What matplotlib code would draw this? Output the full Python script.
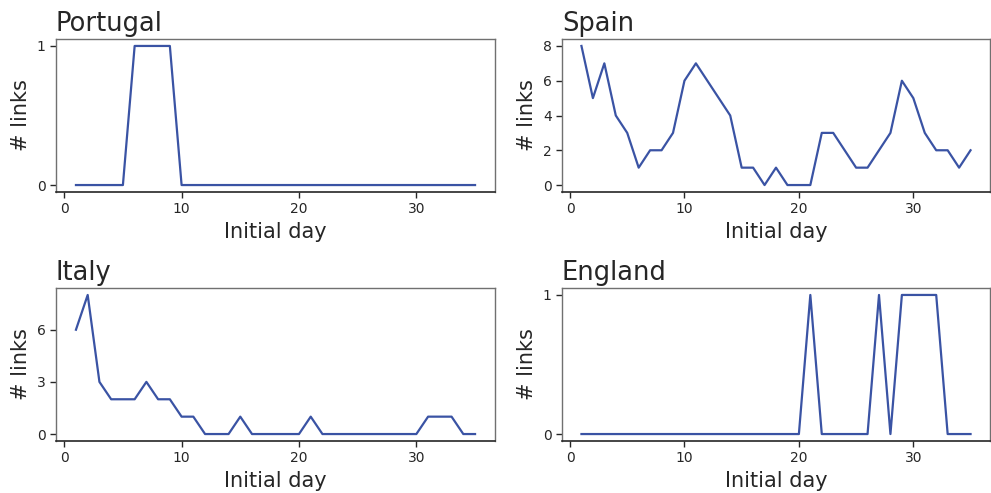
import matplotlib
matplotlib.use("Agg")
import matplotlib.pyplot as plt

days = list(range(1, 36))

portugal = [0, 0, 0, 0, 0, 1, 1, 1, 1, 0, 0, 0, 0, 0, 0, 0, 0, 0, 0, 0,
            0, 0, 0, 0, 0, 0, 0, 0, 0, 0, 0, 0, 0, 0, 0]
spain = [8, 5, 7, 4, 3, 1, 2, 2, 3, 6, 7, 6, 5, 4, 1, 1, 0, 1, 0, 0,
         0, 3, 3, 2, 1, 1, 2, 3, 6, 5, 3, 2, 2, 1, 2]
italy = [6, 8, 3, 2, 2, 2, 3, 2, 2, 1, 1, 0, 0, 0, 1, 0, 0, 0, 0, 0,
         1, 0, 0, 0, 0, 0, 0, 0, 0, 0, 1, 1, 1, 0, 0]
england = [0, 0, 0, 0, 0, 0, 0, 0, 0, 0, 0, 0, 0, 0, 0, 0, 0, 0, 0, 0,
           1, 0, 0, 0, 0, 0, 1, 0, 1, 1, 1, 1, 0, 0, 0]

titles = ["Portugal", "Spain", "Italy", "England"]
series = [portugal, spain, italy, england]
yticks = [[0, 1], [0, 2, 4, 6, 8], [0, 3, 6], [0, 1]]
xticks = [0, 10, 20, 30]

W, H = 991, 493
fig = plt.figure(figsize=(W / 100, H / 100), dpi=100)

boxes = [(56, 39, 495, 192), (562, 39, 990, 192),
         (56, 288, 495, 441), (562, 288, 990, 441)]

line_color = "#3a53a4"
text_color = "#262626"

for (x0, y0, x1, y1), title, vals, yt in zip(boxes, titles, series, yticks):
    ax = fig.add_axes([x0 / W, 1 - y1 / H, (x1 - x0) / W, (y1 - y0) / H])
    ax.plot(days, vals, color=line_color, lw=1.6)
    ax.set_xticks(xticks)
    ax.set_yticks(yt)
    ax.set_title(title, loc="left", fontsize=18.5, color=text_color, pad=6)
    ax.set_xlabel("Initial day", fontsize=15, color=text_color, labelpad=4)
    ax.set_ylabel("# links", fontsize=15, color=text_color, labelpad=4)
    ax.tick_params(axis="both", direction="out", length=4, width=1,
                   labelsize=10, colors=text_color)
    for s in ["top", "right", "left"]:
        ax.spines[s].set_color("#707070")
        ax.spines[s].set_linewidth(1.0)
    ax.spines["bottom"].set_color("#262626")
    ax.spines["bottom"].set_linewidth(1.2)

fig.savefig("out.png", dpi=100)
